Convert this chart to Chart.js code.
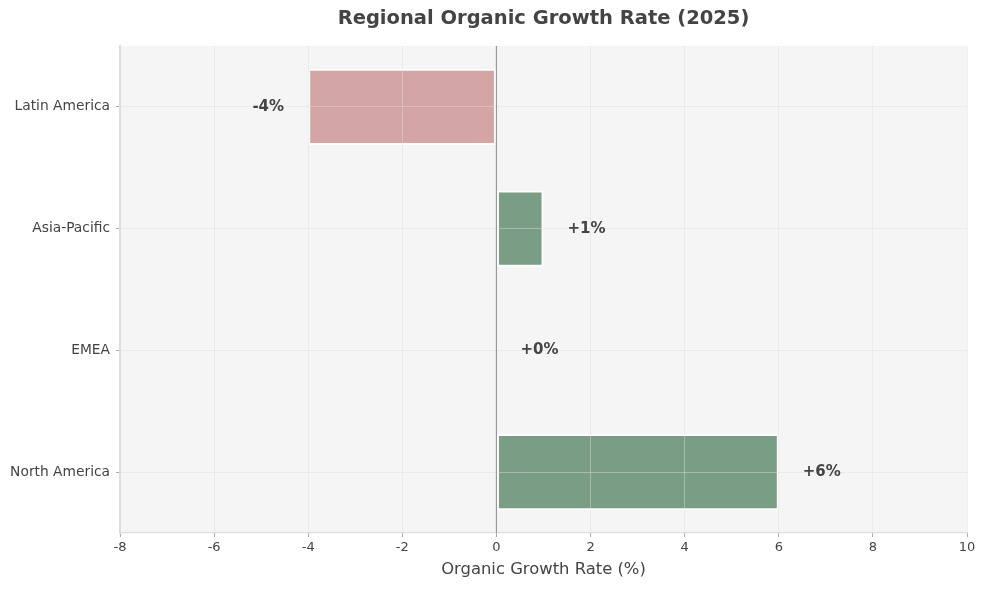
<!DOCTYPE html>
<html>
<head>
<meta charset="utf-8">
<script src="https://cdn.jsdelivr.net/npm/chart.js@4.4.1/dist/chart.umd.min.js"></script>
<style>
  html, body { margin: 0; padding: 0; background: #ffffff; }
  #wrap { width: 987px; height: 590px; }
</style>
</head>
<body>
<div id="wrap"><canvas id="chart"></canvas></div>
<script>
// regions top to bottom, growth in percent
const regions = ["Latin America", "Asia-Pacific", "EMEA", "North America"]
const growthRates = [-4, 1, 0, 6]
const xTicks = [-8, -6, -4, -2, 0, 2, 4, 6, 8, 10]

const green = "rgb(122, 158, 133)"
const red = "rgb(212, 165, 165)"
const barColors = growthRates.map(v => v < 0 ? red : green)

// grey background behind the plot area, then zero line, title and value labels on top
const plotBg = {
  id: "plotBg",
  beforeDraw(chart) {
    const { ctx, chartArea: a } = chart
    ctx.save()
    ctx.fillStyle = "#f5f5f5"
    ctx.fillRect(a.left, a.top, a.right - a.left, a.bottom - a.top)
    ctx.restore()
  },
  afterDraw(chart) {
    const { ctx, chartArea: a, scales } = chart
    const x0 = scales.x.getPixelForValue(0)
    ctx.save()
    ctx.strokeStyle = "#999999"
    ctx.lineWidth = 1.2
    ctx.beginPath()
    ctx.moveTo(x0, a.top)
    ctx.lineTo(x0, a.bottom)
    ctx.stroke()
    // title centred on the plot area
    ctx.fillStyle = "#444444"
    ctx.font = "bold 19.5px 'DejaVu Sans'"
    ctx.textAlign = "center"
    ctx.textBaseline = "middle"
    ctx.fillText("Regional Organic Growth Rate (2025)", (a.left + a.right) / 2, 18.5)
    // value labels next to each bar end
    ctx.font = "bold 15px 'DejaVu Sans'"
    growthRates.forEach((v, i) => {
      const x = scales.x.getPixelForValue(v) + (v < 0 ? -40 : 43)
      const y = scales.y.getPixelForValue(i)
      const txt = (v < 0 ? "" : "+") + v + "%"
      ctx.fillText(txt, x, y)
    })
    ctx.restore()
  }
}

new Chart(document.getElementById("chart"), {
  type: "bar",
  data: {
    labels: regions,
    datasets: [{
      data: growthRates,
      backgroundColor: barColors,
      borderColor: "#ffffff",
      borderWidth: 2,
      borderSkipped: false,
      barPercentage: 0.625,
      categoryPercentage: 1.0
    }]
  },
  options: {
    indexAxis: "y",
    responsive: true,
    maintainAspectRatio: false,
    animation: false,
    layout: { padding: { top: 46, right: 20, bottom: 10, left: 0 } },
    plugins: {
      legend: { display: false },
      tooltip: { enabled: false }
    },
    scales: {
      x: {
        min: -8,
        max: 10,
        afterBuildTicks(scale) { scale.ticks = xTicks.map(v => ({ value: v })) },
        afterFit(scale) { scale.height = 47 },
        grid: { color: "rgba(222,222,222,0.45)", z: 1, tickColor: "#aaaaaa", tickLength: 4 },
        border: { color: "#dddddd", width: 1.2, z: 2 },
        ticks: { color: "#444444", font: { family: "DejaVu Sans", size: 13 }, padding: 3 },
        title: {
          display: true,
          text: "Organic Growth Rate (%)",
          color: "#444444",
          font: { family: "DejaVu Sans", size: 16.4 },
          padding: { top: 2, bottom: 0 }
        }
      },
      y: {
        afterFit(scale) { scale.width = 120 },
        grid: { color: "rgba(222,222,222,0.45)", z: 1, offset: false, tickColor: "#aaaaaa", tickLength: 4 },
        border: { color: "#dddddd", width: 2, z: 2 },
        ticks: { color: "#444444", font: { family: "DejaVu Sans", size: 13.8 }, padding: 6 }
      }
    }
  },
  plugins: [plotBg]
})
</script>
</body>
</html>
